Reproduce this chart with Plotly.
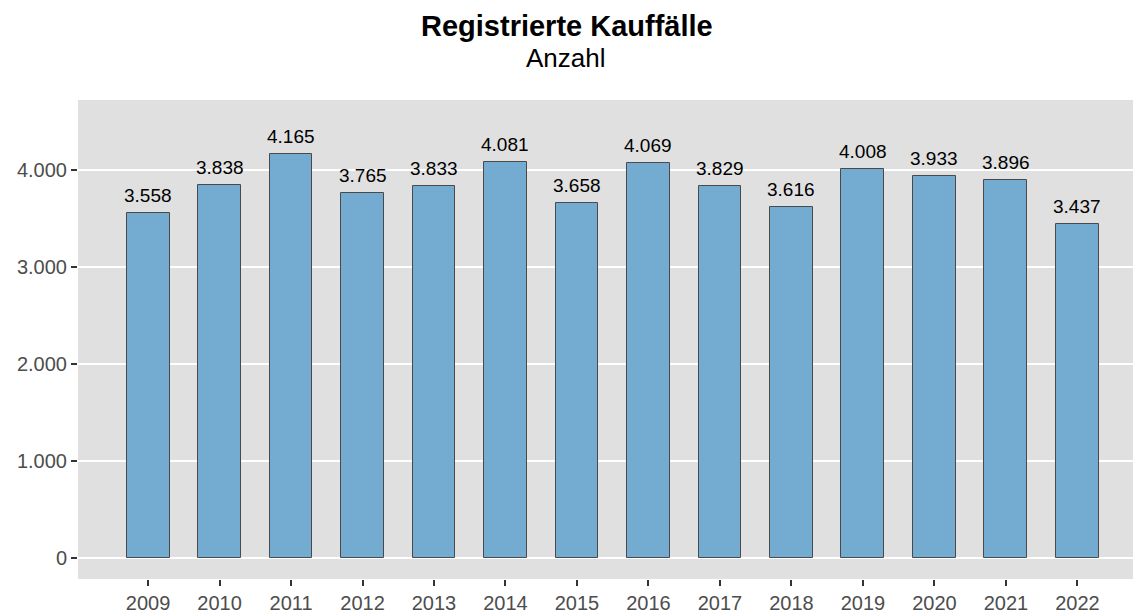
import plotly.graph_objects as go

years = [2009, 2010, 2011, 2012, 2013, 2014, 2015, 2016, 2017, 2018, 2019, 2020, 2021, 2022]
kauffaelle = [3558, 3838, 4165, 3765, 3833, 4081, 3658, 4069, 3829, 3616, 4008, 3933, 3896, 3437]
y_ticks = [0, 1000, 2000, 3000, 4000]
y_tick_labels = ["0", "1.000", "2.000", "3.000", "4.000"]

def de_fmt(v):
    return f"{v:,}".replace(",", ".")

FONT = "Liberation Sans, Arial, sans-serif"

fig = go.Figure()
fig.add_trace(go.Bar(
    x=years, y=kauffaelle, width=0.6,
    marker=dict(color="#74ACD1", line=dict(color="#4a4a4a", width=1)),
    hoverinfo="x+y",
))

annotations = []
for x, v in zip(years, kauffaelle):
    annotations.append(dict(
        x=x, y=v, xref="x", yref="y", text=de_fmt(v), showarrow=False,
        yanchor="bottom", yshift=5,
        font=dict(family=FONT, size=19, color="#000000"),
    ))

# page body has an 8px margin; compensate so the figure fills the window
OFF = 8
WIN_W, WIN_H = 1141, 611
W, H = WIN_W - OFF, WIN_H - OFF
ml, mr, mt, mb = 78 - OFF, 0, 100 - OFF, 32
ph = H - mt - mb
pw = W - ml - mr

def py(p):
    return (WIN_H - mb - p) / ph

def px(p):
    return (p - 78) / pw

annotations.append(dict(
    x=px(567), y=py(26), xref="paper", yref="paper", showarrow=False,
    text="<b>Registrierte Kauffälle</b>", xanchor="center", yanchor="middle",
    font=dict(family=FONT, size=29, color="#000000"),
))
annotations.append(dict(
    x=px(566), y=py(58), xref="paper", yref="paper", showarrow=False,
    text="Anzahl", xanchor="center", yanchor="middle",
    font=dict(family=FONT, size=26, color="#000000"),
))

fig.update_layout(
    width=W, height=H,
    margin=dict(l=ml, r=mr, t=mt, b=mb, pad=0, autoexpand=False),
    paper_bgcolor="white", plot_bgcolor="#E0E0E0",
    showlegend=False,
    annotations=annotations,
    bargap=0,
)
fig.update_xaxes(
    range=[2008.02, 2022.89], automargin=False,
    tickmode="array", tickvals=years, ticktext=[str(y) for y in years],
    showgrid=False, zeroline=False, showline=False,
    ticks="outside", ticklen=6, tickwidth=2, tickcolor="#333333",
    tickfont=dict(family=FONT, size=20, color="#4D4D4D"),
)
fig.update_yaxes(
    range=[-220, 4719], automargin=False,
    tickmode="array", tickvals=y_ticks, ticktext=y_tick_labels,
    showgrid=True, gridcolor="white", gridwidth=2,
    zeroline=False, showline=False,
    ticks="outside", ticklen=6, tickwidth=2, tickcolor="#333333",
    tickfont=dict(family=FONT, size=20, color="#4D4D4D"),
)

fig.write_html("out.html")
